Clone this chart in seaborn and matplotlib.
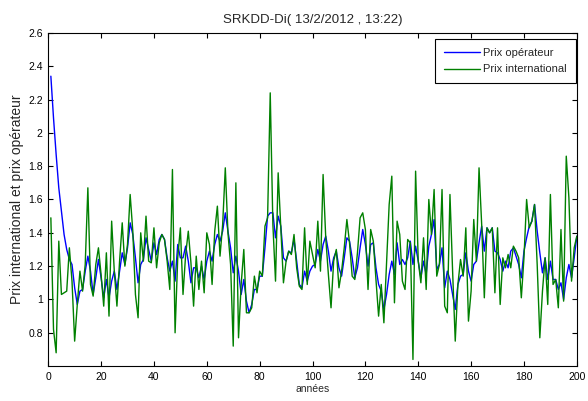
import matplotlib
matplotlib.use("Agg")
import matplotlib.pyplot as plt
import seaborn as sns
import numpy as np
import pandas as pd

# Time axis (years) and the two price series
annees = list(range(1, 201))

prix_operateur = [
    2.34, 2.09, 1.87, 1.67, 1.53, 1.39, 1.30, 1.24, 1.21, 1.07,
    0.97, 1.05, 1.06, 1.17, 1.26, 1.17, 1.03, 1.13, 1.24, 1.13,
    1.01, 1.12, 1.01, 1.11, 1.17, 1.06, 1.17, 1.28, 1.21, 1.31,
    1.46, 1.39, 1.25, 1.10, 1.21, 1.24, 1.37, 1.30, 1.23, 1.34,
    1.27, 1.36, 1.39, 1.36, 1.25, 1.17, 1.23, 1.11, 1.33, 1.25,
    1.25, 1.32, 1.23, 1.10, 1.19, 1.19, 1.13, 1.20, 1.12, 1.23,
    1.29, 1.23, 1.33, 1.39, 1.35, 1.41, 1.52, 1.41, 1.31, 1.16,
    1.26, 1.17, 1.03, 1.12, 0.99, 0.92, 0.97, 1.06, 1.06, 1.14,
    1.14, 1.31, 1.50, 1.52, 1.52, 1.37, 1.50, 1.44, 1.25, 1.23,
    1.29, 1.28, 1.36, 1.23, 1.09, 1.07, 1.17, 1.11, 1.17, 1.20,
    1.21, 1.30, 1.23, 1.33, 1.38, 1.29, 1.17, 1.25, 1.29, 1.19,
    1.14, 1.25, 1.37, 1.35, 1.25, 1.13, 1.19, 1.31, 1.42, 1.33,
    1.20, 1.33, 1.34, 1.19, 1.09, 1.05, 0.94, 1.03, 1.15, 1.23,
    1.15, 1.34, 1.21, 1.24, 1.21, 1.25, 1.35, 1.21, 1.32, 1.23,
    1.13, 1.23, 1.15, 1.32, 1.39, 1.48, 1.18, 1.21, 1.31, 1.07,
    1.17, 1.12, 1.03, 0.94, 1.09, 1.14, 1.15, 1.28, 1.17, 1.11,
    1.21, 1.23, 1.34, 1.44, 1.29, 1.43, 1.40, 1.43, 1.29, 1.28,
    1.24, 1.17, 1.23, 1.19, 1.29, 1.31, 1.26, 1.21, 1.13, 1.29,
    1.37, 1.44, 1.47, 1.57, 1.41, 1.28, 1.16, 1.25, 1.12, 1.23,
    1.12, 1.12, 1.06, 1.10, 1.00, 1.13, 1.21, 1.13, 1.25, 1.38,
]

prix_international = [
    1.49, 0.82, 0.68, 1.35, 1.03, 1.04, 1.05, 1.31, 1.11, 0.75,
    0.97, 1.17, 1.05, 1.21, 1.67, 1.09, 1.02, 1.21, 1.31, 1.15,
    0.96, 1.28, 0.90, 1.47, 1.17, 0.96, 1.23, 1.46, 1.20, 1.33,
    1.63, 1.41, 1.03, 0.89, 1.40, 1.23, 1.50, 1.23, 1.22, 1.43,
    1.19, 1.34, 1.39, 1.36, 1.23, 1.06, 1.78, 0.80, 1.25, 1.43,
    1.03, 1.27, 1.41, 1.22, 0.96, 1.26, 1.06, 1.23, 1.04, 1.40,
    1.33, 1.09, 1.41, 1.56, 1.26, 1.45, 1.79, 1.40, 1.21, 0.72,
    1.70, 0.77, 1.09, 1.30, 0.92, 0.92, 0.95, 1.14, 1.04, 1.17,
    1.14, 1.44, 1.49, 2.24, 1.45, 1.11, 1.76, 1.43, 1.10, 1.23,
    1.29, 1.27, 1.39, 1.19, 1.08, 1.06, 1.43, 1.09, 1.35, 1.27,
    1.19, 1.47, 1.17, 1.75, 1.37, 1.15, 0.95, 1.23, 1.30, 1.07,
    1.17, 1.31, 1.48, 1.34, 1.14, 1.12, 1.28, 1.49, 1.52, 1.42,
    1.06, 1.42, 1.35, 1.12, 0.90, 1.09, 0.86, 1.21, 1.57, 1.74,
    0.98, 1.47, 1.39, 1.11, 1.06, 1.36, 1.34, 0.64, 1.77, 1.23,
    1.10, 1.37, 1.06, 1.60, 1.39, 1.66, 1.14, 1.21, 1.66, 0.96,
    0.92, 1.63, 1.17, 0.75, 1.09, 1.24, 1.14, 1.43, 0.87, 1.05,
    1.48, 1.23, 1.79, 1.45, 1.01, 1.43, 1.40, 1.43, 1.04, 1.43,
    0.97, 1.25, 1.19, 1.27, 1.19, 1.32, 1.29, 1.25, 1.01, 1.25,
    1.60, 1.43, 1.47, 1.57, 1.21, 0.77, 1.05, 1.25, 0.97, 1.63,
    1.09, 1.12, 0.95, 1.42, 0.99, 1.86, 1.61, 1.11, 1.31, 1.38,
]

xticks = list(range(0, 201, 20))
yticks = [0.8, 1.0, 1.2, 1.4, 1.6, 1.8, 2.0, 2.2, 2.4, 2.6]
ytick_labels = ["0.8", "1", "1.2", "1.4", "1.6", "1.8", "2", "2.2", "2.4", "2.6"]

df = pd.DataFrame({
    "annees": annees,
    "Prix opérateur": prix_operateur,
    "Prix international": prix_international,
})

sns.set_style("ticks")
plt.rcParams["font.family"] = ["Liberation Sans", "DejaVu Sans"]

fig = plt.figure(figsize=(5.88, 4.01), dpi=100)
ax = fig.add_axes([0.082, 0.087, 0.899, 0.831])

sns.lineplot(data=df, x="annees", y="Prix opérateur", ax=ax,
             color="#0000ff", linewidth=1.0, label="Prix opérateur")
sns.lineplot(data=df, x="annees", y="Prix international", ax=ax,
             color="#008000", linewidth=1.0, label="Prix international")

ax.set_xlim(0, 200)
ax.set_ylim(0.6, 2.6)
ax.set_xticks(xticks)
ax.set_xticklabels([str(v) for v in xticks])
ax.set_yticks(yticks)
ax.set_yticklabels(ytick_labels)

ax.tick_params(direction="in", top=True, right=True, length=3.5,
               width=0.8, labelsize=7.5, colors="black", pad=4)
for side in ax.spines.values():
    side.set_visible(True)
    side.set_linewidth(0.8)
    side.set_color("black")

ax.set_title("SRKDD-Di( 13/2/2012 , 13:22)", fontsize=9.5, pad=7)
ax.set_xlabel("années", fontsize=7.5, labelpad=2)
ax.set_ylabel("Prix international et prix opérateur", fontsize=10, labelpad=3)

leg = ax.legend(loc="upper right", fontsize=8, frameon=True, fancybox=False,
                framealpha=1, edgecolor="black", borderpad=0.8,
                handlelength=3.2, handletextpad=0.3, labelspacing=0.6,
                borderaxespad=0.0, bbox_to_anchor=(0.998, 0.982))
leg.get_frame().set_linewidth(0.8)

fig.savefig("out.png", dpi=100, facecolor="white")
